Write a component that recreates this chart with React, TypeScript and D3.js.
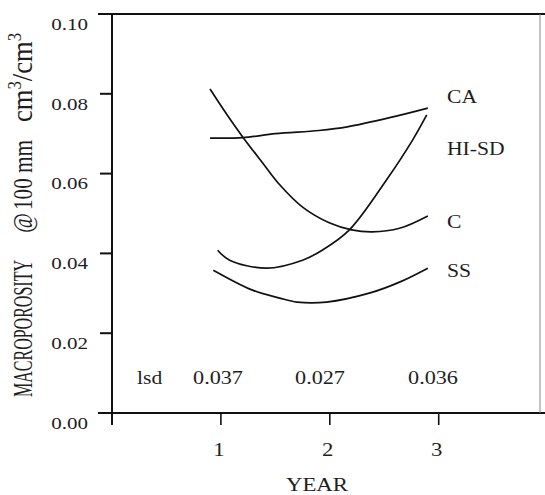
import React from 'react'
import * as d3 from 'd3'

// data (year, macroporosity cm3/cm3)
const yearTicks = [1, 2, 3]
const valueTicks = [0, 0.02, 0.04, 0.06, 0.08, 0.1]

const caYears = [0.9, 1.2, 1.5, 1.9, 2.16, 2.58, 2.9]
const caValues = [0.0689, 0.069, 0.07, 0.0708, 0.0717, 0.0742, 0.0764]

const hisdYears = [0.97, 1.08, 1.42, 1.75, 1.93, 2.18, 2.52, 2.76, 2.89]
const hisdValues = [0.0408, 0.0383, 0.0363, 0.0383, 0.0408, 0.0459, 0.0584, 0.0684, 0.0747]

const cYears = [0.9, 1.05, 1.2, 1.38, 1.54, 1.75, 2.0, 2.2, 2.39, 2.64, 2.9]
const cValues = [0.0812, 0.075, 0.0692, 0.0628, 0.0572, 0.0516, 0.0476, 0.0459, 0.0454, 0.0463, 0.0494]

const ssYears = [0.93, 1.29, 1.54, 1.7, 1.97, 2.37, 2.64, 2.9]
const ssValues = [0.0358, 0.0308, 0.0288, 0.0278, 0.0278, 0.0301, 0.0328, 0.0363]

const seriesNames = ['CA', 'HI-SD', 'C', 'SS']
const lsdLabel = 'lsd'
const lsdValues = ['0.037', '0.027', '0.036']

const W = 545
const H = 495
const ink = '#1e1e1e'
const font = '"Liberation Serif", "Times New Roman", serif'

// scanned figure is a bit wider than tall, so text gets stretched sideways
const T = ({ x, y, size, anchor = 'start', children }: any) => (
  <text
    transform={`translate(${x},${y}) scale(1.2,1)`}
    fontSize={size}
    textAnchor={anchor}
    dominantBaseline="central"
    fill={ink}
    fontFamily={font}
  >
    {children}
  </text>
)

// rotated axis-title piece, squeezed to the length measured in the figure
const V = ({ y, len, size, children }: any) => (
  <text
    transform={`translate(32,${y}) rotate(-90) scale(1,1.2)`}
    fontSize={size}
    fill={ink}
    fontFamily={font}
    textLength={len}
    lengthAdjust="spacingAndGlyphs"
  >
    {children}
  </text>
)

export default function App() {
  const x = d3.scaleLinear().domain([0, 3.93]).range([112, 540])
  const y = d3.scaleLinear().domain([0, 0.1]).range([413, 14])

  const line = d3.line<[number, number]>()
    .x(d => x(d[0]))
    .y(d => y(d[1]))
    .curve(d3.curveCatmullRom.alpha(0.5))

  const series = [
    d3.zip(caYears, caValues),
    d3.zip(hisdYears, hisdValues),
    d3.zip(cYears, cValues),
    d3.zip(ssYears, ssValues)
  ] as [number, number][][]

  // where the curve names sit (in data units)
  const labelLevels = [0.0792, 0.0662, 0.0479, 0.0356]
  const lsdX = [218, 320, 433]

  const y0 = y(0)
  const yTop = y(0.1)

  return (
    <svg width={W} height={H} style={{ position: 'absolute', left: 0, top: 0, background: '#fff' }}>
      <rect width={W} height={H} fill="#fff" />

      {/* frame */}
      <line x1={98} x2={W} y1={yTop} y2={yTop} stroke="#111" strokeWidth={2} />
      <line x1={98} x2={W} y1={y0} y2={y0} stroke="#111" strokeWidth={2} />
      <line x1={x(0)} x2={x(0)} y1={yTop} y2={y0 + 12} stroke="#111" strokeWidth={2} />
      <line x1={540} x2={540} y1={yTop} y2={y0} stroke="#888" strokeWidth={1} />

      {/* y ticks */}
      {valueTicks.map(v => (
        <g key={v}>
          <line x1={100} x2={x(0)} y1={y(v)} y2={y(v)} stroke="#111" strokeWidth={2} />
          <T x={88} y={y(v) + 10} size={17.5} anchor="end">{v.toFixed(2)}</T>
        </g>
      ))}

      {/* x ticks */}
      {yearTicks.map(t => (
        <g key={t}>
          <line x1={x(t)} x2={x(t)} y1={y0} y2={y0 + 12} stroke="#111" strokeWidth={1.6} />
          <T x={x(t) - 2} y={450} size={19} anchor="middle">{t}</T>
        </g>
      ))}
      <T x={317} y={485} size={19} anchor="middle">YEAR</T>

      {/* y title */}
      <V y={397} len={137} size={22}>MACROPOROSITY</V>
      <V y={233} len={20} size={22}>@</V>
      <V y={210} len={70} size={22}>100 mm</V>
      <V y={122} len={89} size={24}>
        cm<tspan fontSize={15} dy={-9}>3</tspan><tspan dy={9}>/cm</tspan><tspan fontSize={15} dy={-9}>3</tspan>
      </V>

      {/* curves */}
      {series.map((pts, i) => (
        <path key={i} d={line(pts) || ''} fill="none" stroke="#111" strokeWidth={1.7} />
      ))}
      {seriesNames.map((n, i) => (
        <T key={n} x={447} y={y(labelLevels[i])} size={18}>{n}</T>
      ))}

      {/* lsd row */}
      <T x={137} y={378} size={18}>{lsdLabel}</T>
      {lsdValues.map((v, i) => (
        <T key={v} x={lsdX[i]} y={378} size={18.5} anchor="middle">{v}</T>
      ))}
    </svg>
  )
}
